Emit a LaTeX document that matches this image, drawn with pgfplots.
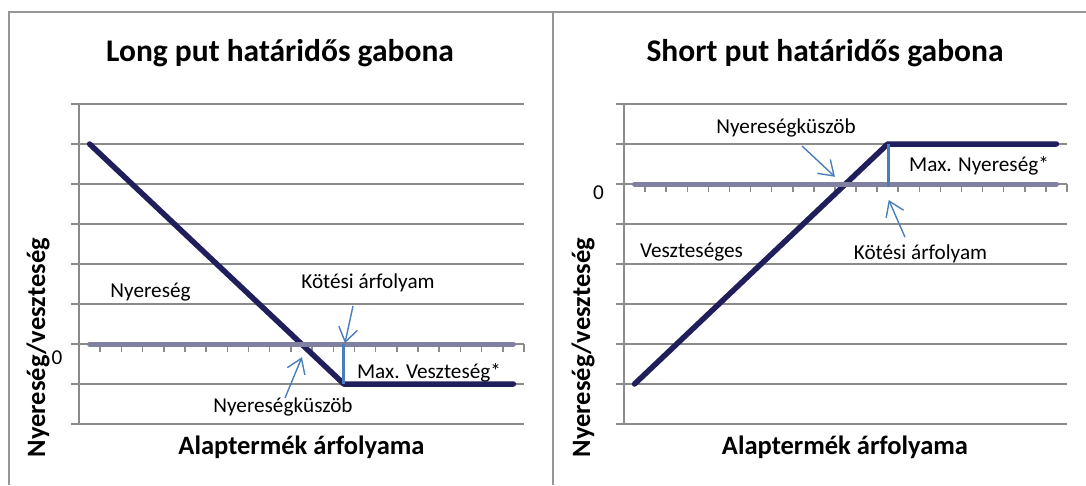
\documentclass[border=0pt]{standalone}
\usepackage{pgfplots}
\pgfplotsset{compat=1.18}
\usetikzlibrary{arrows.meta}
\usepackage{fontspec}
\setmainfont{Carlito}
\definecolor{navyc}{RGB}{33,30,92}
\definecolor{zeroc}{RGB}{128,128,160}
\definecolor{bluec}{RGB}{74,126,187}
\definecolor{gridc}{RGB}{138,138,138}
\definecolor{borderc}{RGB}{150,150,150}
\pgfplotsset{
  payoff/.style={
    anchor=south west, scale only axis, height=320pt,
    xmin=-0.5, xmax=20.5, clip=false,
    axis x line*=middle, axis y line*=left,
    axis line style={gridc, line width=1.5pt},
    xtick={-0.5,0.5,...,20.5}, xticklabels={},
    yticklabels={},
    ymajorgrids, grid style={gridc, line width=1.5pt},
    tick style={gridc, line width=1.5pt},
    major tick length=8pt,
    xtick align=outside, ytick align=outside,
  },
}
\tikzset{
  tit/.style={font=\fontsize{31.5}{36}\selectfont\bfseries},
  lab/.style={font=\fontsize{26.5}{30}\selectfont\bfseries},
  ann/.style={font=\fontsize{21.2}{25}\selectfont},
  arr/.style={bluec, line width=1.4pt, -{Straight Barb[length=14pt,width=19pt,line width=1.4pt]}},
}
\begin{document}
\begin{tikzpicture}[x=1pt,y=1pt]
\useasboundingbox (0,0) rectangle (1086,485);
% panel borders
\draw[borderc, line width=2pt] (8.7,0) -- (8.7,472.7) -- (1086,472.7);
\draw[borderc, line width=2pt] (552.7,0) -- (552.7,472.7);

% ---------- Long put ----------
\begin{axis}[payoff, at={(79pt,61pt)}, width=445pt, ymin=-2, ymax=6, ytick={-2,...,6}]
\addplot[navyc, line width=5.5pt, line cap=round, line join=round] coordinates {
(0,5) (1,4.5) (2,4) (3,3.5) (4,3) (5,2.5) (6,2) (7,1.5) (8,1) (9,0.5) (10,0)
(11,-0.5) (12,-1) (13,-1) (14,-1) (15,-1) (16,-1) (17,-1) (18,-1) (19,-1) (20,-1)};
\addplot[zeroc, line width=5pt, line cap=round] coordinates {
(0,0) (1,0) (2,0) (3,0) (4,0) (5,0) (6,0) (7,0) (8,0) (9,0) (10,0)
(11,0) (12,0) (13,0) (14,0) (15,0) (16,0) (17,0) (18,0) (19,0) (20,0)};
\addplot[bluec, line width=3pt] coordinates {(12,0) (12,-1)};
\draw[arr] (axis cs:12.43,0.95) -- (axis cs:12.05,0.02);
\draw[arr] (axis cs:9.22,-1.35) -- (axis cs:10.02,-0.33);
\end{axis}

% ---------- Short put ----------
\begin{axis}[payoff, at={(624pt,61pt)}, width=443pt, ymin=-6, ymax=2, ytick={-6,...,2}]
\addplot[navyc, line width=5.5pt, line cap=round, line join=round] coordinates {
(0,-5) (1,-4.5) (2,-4) (3,-3.5) (4,-3) (5,-2.5) (6,-2) (7,-1.5) (8,-1) (9,-0.5) (10,0)
(11,0.5) (12,1) (13,1) (14,1) (15,1) (16,1) (17,1) (18,1) (19,1) (20,1)};
\addplot[zeroc, line width=5pt, line cap=round] coordinates {
(0,0) (1,0) (2,0) (3,0) (4,0) (5,0) (6,0) (7,0) (8,0) (9,0) (10,0)
(11,0) (12,0) (13,0) (14,0) (15,0) (16,0) (17,0) (18,0) (19,0) (20,0)};
\addplot[bluec, line width=3pt] coordinates {(12.05,1) (12.05,-0.08)};
\draw[arr] (axis cs:12.82,-1.33) -- (axis cs:12.05,-0.4);
\draw[arr] (axis cs:7.94,0.95) -- (axis cs:9.5,0.18);
\end{axis}

% ---------- texts left ----------
\node[tit] at (280,432) {Long put határidős gabona};
\node[ann] at (150.5,193) {Nyereség};
\node[ann] at (368,202) {Kötési árfolyam};
\node[ann] at (429,112) {Max. Veszteség*};
\node[ann] at (283,78) {Nyereségküszöb};
\node[ann] at (57,127) {0};
\node[lab, rotate=90] at (38,137.5) {Nyereség/veszteség};
\node[lab] at (301.5,38) {Alaptermék árfolyama};

% ---------- texts right ----------
\node[tit] at (825,432) {Short put határidős gabona};
\node[ann] at (786,357) {Nyereségküszöb};
\node[ann] at (979,319) {Max. Nyereség*};
\node[ann] at (920.5,231) {Kötési árfolyam};
\node[ann] at (691.5,233) {Veszteséges};
\node[ann] at (598.5,292) {0};
\node[lab, rotate=90] at (583,137.5) {Nyereség/veszteség};
\node[lab] at (845,38) {Alaptermék árfolyama};
\end{tikzpicture}
\end{document}
